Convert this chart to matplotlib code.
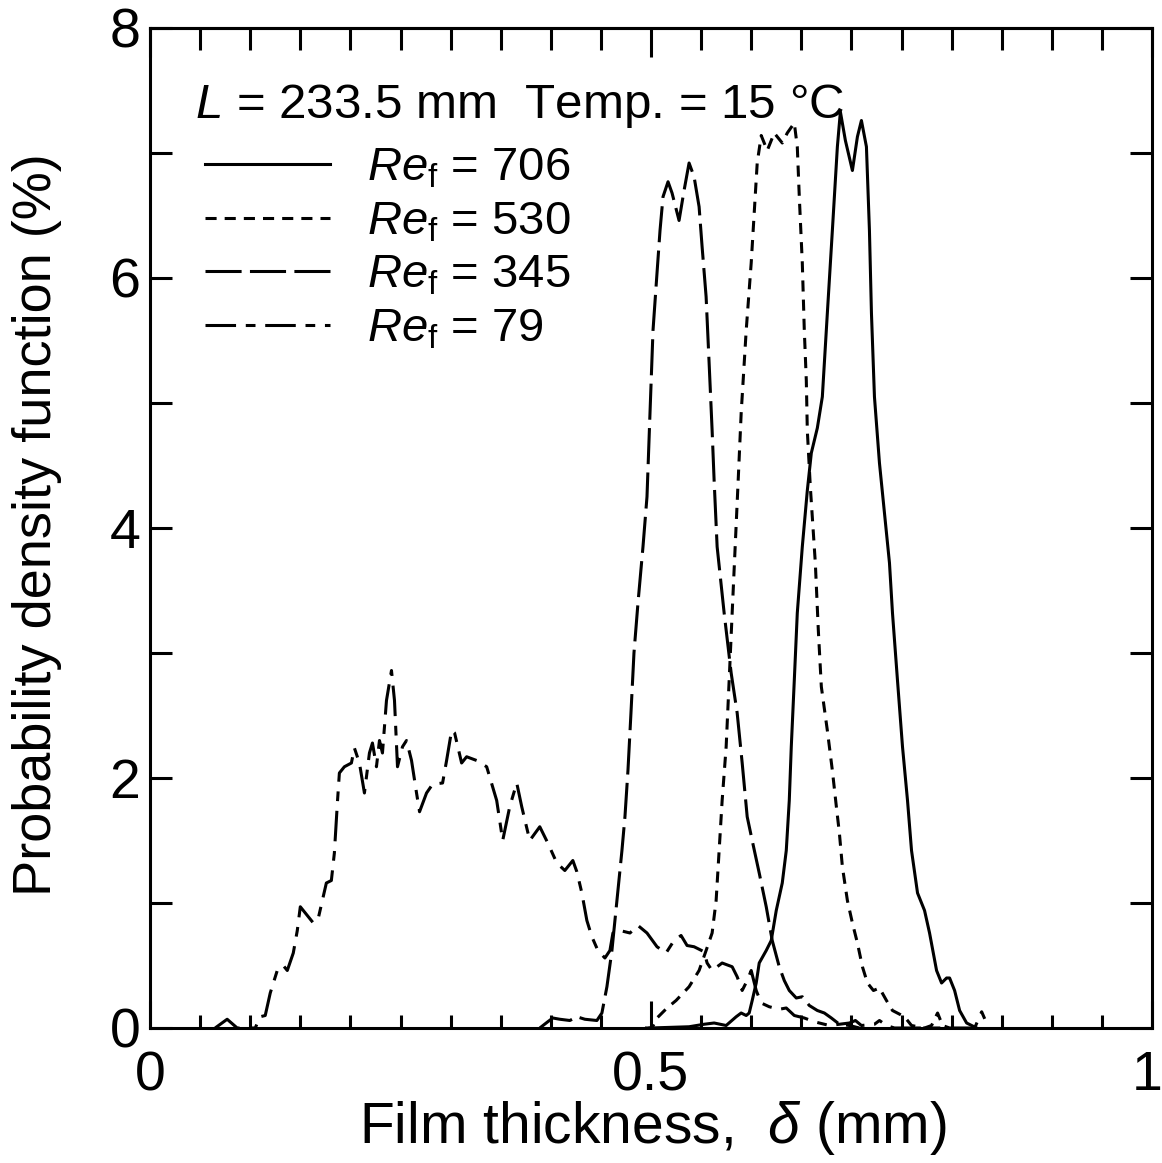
import matplotlib
matplotlib.use('Agg')
import matplotlib.pyplot as plt
from matplotlib.ticker import MultipleLocator, NullFormatter
from matplotlib.transforms import ScaledTranslation

# film thickness (mm) and PDF (%)
x_706 = [0.499, 0.538, 0.553, 0.563, 0.575, 0.585, 0.590, 0.595, 0.598, 0.601, 0.605, 0.608, 0.615, 0.620,
         0.625, 0.631, 0.635, 0.638, 0.640, 0.643, 0.646, 0.651, 0.656, 0.660, 0.666, 0.671, 0.676, 0.681,
         0.686, 0.689, 0.694, 0.701, 0.706, 0.710, 0.715, 0.718, 0.720, 0.723, 0.728, 0.738, 0.741, 0.746,
         0.751, 0.756, 0.760, 0.766, 0.773, 0.778, 0.785, 0.790, 0.795, 0.798, 0.803, 0.808, 0.815, 0.825]
pdf_706 = [0.00, 0.01, 0.03, 0.04, 0.02, 0.09, 0.12, 0.10, 0.12, 0.22, 0.36, 0.52, 0.62, 0.70,
           0.94, 1.16, 1.42, 1.82, 2.25, 2.78, 3.32, 3.85, 4.30, 4.60, 4.80, 5.05, 5.72, 6.38,
           7.05, 7.33, 7.10, 6.86, 7.13, 7.26, 7.05, 6.38, 5.72, 5.05, 4.52, 3.72, 3.32, 2.78,
           2.25, 1.82, 1.42, 1.08, 0.94, 0.76, 0.46, 0.36, 0.40, 0.40, 0.30, 0.14, 0.04, 0.00]

x_530 = [0.494, 0.501, 0.506, 0.516, 0.525, 0.538, 0.548, 0.555, 0.561, 0.565, 0.568, 0.571, 0.575, 0.578,
         0.581, 0.584, 0.587, 0.590, 0.595, 0.600, 0.603, 0.606, 0.610, 0.616, 0.623, 0.631, 0.636, 0.643,
         0.646, 0.648, 0.651, 0.653, 0.655, 0.656, 0.659, 0.664, 0.667, 0.670, 0.676, 0.681, 0.685, 0.688,
         0.691, 0.696, 0.701, 0.706, 0.711, 0.716, 0.722, 0.728, 0.735, 0.741, 0.753, 0.760, 0.773, 0.780,
         0.786, 0.791, 0.798]
pdf_530 = [0.00, 0.00, 0.08, 0.16, 0.22, 0.33, 0.46, 0.62, 0.76, 1.02, 1.42, 1.82, 2.25, 2.78,
           3.32, 3.85, 4.38, 4.92, 5.58, 6.12, 6.52, 6.92, 7.14, 7.02, 7.16, 7.08, 7.16, 7.24,
           7.05, 6.65, 6.12, 5.58, 5.18, 4.78, 4.33, 3.72, 3.18, 2.73, 2.38, 2.06, 1.77, 1.56,
           1.29, 1.02, 0.84, 0.68, 0.49, 0.36, 0.30, 0.32, 0.22, 0.14, 0.09, 0.02, 0.00, 0.02,
           0.12, 0.02, 0.00]

x_345 = [0.389, 0.397, 0.402, 0.409, 0.419, 0.426, 0.434, 0.446, 0.451, 0.456, 0.461, 0.466, 0.471, 0.474,
         0.477, 0.480, 0.483, 0.487, 0.492, 0.496, 0.499, 0.502, 0.506, 0.509, 0.512, 0.517, 0.521, 0.528,
         0.533, 0.538, 0.543, 0.548, 0.551, 0.555, 0.558, 0.561, 0.563, 0.566, 0.573, 0.580, 0.586, 0.591,
         0.596, 0.601, 0.608, 0.615, 0.621, 0.628, 0.633, 0.638, 0.645, 0.651, 0.658, 0.666, 0.673, 0.680,
         0.688, 0.698, 0.708]
pdf_345 = [0.00, 0.05, 0.08, 0.07, 0.06, 0.09, 0.07, 0.06, 0.12, 0.33, 0.62, 1.02, 1.42, 1.69,
           2.06, 2.52, 3.00, 3.40, 3.85, 4.25, 4.92, 5.58, 6.04, 6.38, 6.65, 6.77, 6.68, 6.46,
           6.70, 6.92, 6.81, 6.57, 6.25, 5.85, 5.32, 4.78, 4.38, 3.85, 3.32, 2.84, 2.52, 2.12,
           1.69, 1.50, 1.24, 0.97, 0.70, 0.49, 0.38, 0.30, 0.24, 0.25, 0.18, 0.14, 0.12, 0.08,
           0.03, 0.02, 0.00]

x_79 = [0.065, 0.077, 0.087, 0.105, 0.110, 0.115, 0.120, 0.127, 0.133, 0.137, 0.143, 0.147, 0.150, 0.155,
        0.163, 0.168, 0.176, 0.181, 0.184, 0.187, 0.189, 0.194, 0.201, 0.204, 0.209, 0.214, 0.219, 0.222,
        0.226, 0.229, 0.232, 0.236, 0.241, 0.244, 0.247, 0.252, 0.256, 0.261, 0.266, 0.269, 0.276, 0.282,
        0.292, 0.296, 0.301, 0.304, 0.311, 0.316, 0.326, 0.336, 0.346, 0.352, 0.359, 0.366, 0.371, 0.379,
        0.389, 0.397, 0.406, 0.414, 0.422, 0.426, 0.431, 0.436, 0.441, 0.447, 0.454, 0.459, 0.462, 0.469,
        0.479, 0.487, 0.496, 0.506, 0.515, 0.523, 0.530, 0.536, 0.543, 0.553, 0.556, 0.561, 0.571, 0.581,
        0.586, 0.591, 0.596, 0.600, 0.605, 0.610, 0.618, 0.628, 0.635, 0.643, 0.653, 0.663, 0.678, 0.698,
        0.704, 0.710, 0.723, 0.728, 0.735, 0.743, 0.823, 0.830, 0.837]
pdf_79 = [0.00, 0.07, 0.00, 0.00, 0.09, 0.10, 0.28, 0.46, 0.50, 0.46, 0.60, 0.78, 0.97, 0.92,
          0.84, 0.88, 1.16, 1.18, 1.40, 1.80, 2.04, 2.09, 2.12, 2.24, 2.12, 1.88, 2.20, 2.28,
          2.09, 2.30, 2.20, 2.62, 2.86, 2.62, 2.09, 2.25, 2.30, 2.14, 1.88, 1.73, 1.88, 1.95,
          1.96, 2.14, 2.38, 2.36, 2.12, 2.17, 2.14, 2.09, 1.82, 1.50, 1.77, 1.96, 1.77, 1.50,
          1.61, 1.48, 1.32, 1.26, 1.34, 1.25, 1.08, 0.86, 0.73, 0.62, 0.56, 0.62, 0.76, 0.78,
          0.76, 0.82, 0.76, 0.65, 0.60, 0.70, 0.74, 0.66, 0.65, 0.61, 0.52, 0.46, 0.52, 0.49,
          0.41, 0.30, 0.38, 0.46, 0.30, 0.20, 0.17, 0.15, 0.16, 0.10, 0.08, 0.05, 0.02, 0.04,
          0.06, 0.02, 0.03, 0.06, 0.02, 0.00, 0.00, 0.13, 0.00]

re_values = ['706', '530', '345', '79']
x_ticks = [0, 0.5, 1]
x_tick_labels = ['0', '0.5', '1']
y_ticks = [0, 2, 4, 6, 8]


def main():
    plt.rcParams['font.family'] = ['Liberation Sans', 'DejaVu Sans']
    plt.rcParams['mathtext.fontset'] = 'custom'
    plt.rcParams['mathtext.rm'] = 'Liberation Sans'
    plt.rcParams['mathtext.it'] = 'Liberation Sans:italic'
    plt.rcParams['lines.scale_dashes'] = False

    W, H = 1162, 1163
    fig = plt.figure(figsize=(W / 100, H / 100), dpi=100)
    ax = fig.add_axes([150 / W, 1 - 1028 / H, 1002 / W, 1000 / H])

    lw = 2.2
    l1, = ax.plot(x_706, pdf_706, color='black', lw=lw, linestyle='-')
    l2, = ax.plot(x_530, pdf_530, color='black', lw=lw, linestyle=(0, (8, 5.8)))
    l3, = ax.plot(x_345, pdf_345, color='black', lw=lw, linestyle=(0, (26, 6)))
    l4, = ax.plot(x_79, pdf_79, color='black', lw=lw, linestyle=(0, (22, 7, 7, 7)))

    ax.set_xlim(0, 1)
    ax.set_ylim(0, 8)
    ax.set_xticks(x_ticks)
    ax.set_xticklabels(x_tick_labels)
    ax.xaxis.set_minor_locator(MultipleLocator(0.05))
    ax.set_yticks(y_ticks)
    ax.yaxis.set_minor_locator(MultipleLocator(1))

    for s in ax.spines.values():
        s.set_linewidth(2.2)

    ax.tick_params(axis='x', which='major', direction='in', length=19.5, width=2.2,
                   labelsize=40, pad=16, top=False)
    ax.tick_params(axis='x', which='minor', direction='in', length=9.5, width=2.2, top=False)
    ax.tick_params(axis='y', which='both', direction='in', length=16, width=2.2,
                   labelsize=40, pad=7, left=True, right=True)

    # top ticks are longer than the bottom ones
    sec = ax.secondary_xaxis('top')
    sec.set_xticks(x_ticks)
    sec.xaxis.set_minor_locator(MultipleLocator(0.05))
    sec.xaxis.set_major_formatter(NullFormatter())
    sec.tick_params(which='major', direction='in', length=21, width=2.2)
    sec.tick_params(which='minor', direction='in', length=16, width=2.2)
    sec.spines['top'].set_linewidth(2.2)

    # the "1" sits a little left of its tick so it stays inside the figure
    last = ax.get_xticklabels()[-1]
    last.set_transform(last.get_transform() + ScaledTranslation(-0.05, 0, fig.dpi_scale_trans))

    ax.set_xlabel('Film thickness,  $\\mathit{\\delta}$ (mm)', fontsize=41)
    ax.xaxis.set_label_coords(0.502, -0.071)
    ax.set_ylabel('Probability density function (%)', fontsize=39)
    ax.yaxis.set_label_coords(-0.088, 0.503)

    ax.text(0.045, 0.910, '$\\mathit{L}$ = 233.5 mm  Temp. = 15 °C', transform=ax.transAxes,
            fontsize=35.5, ha='left', va='baseline')

    labels = ['$\\mathit{Re}_\\mathrm{f}$ = ' + r for r in re_values]
    ax.legend([l1, l2, l3, l4], labels, loc='upper left', bbox_to_anchor=(0.055, 0.881),
              frameon=False, fontsize=34, handlelength=2.65, handletextpad=0.78,
              labelspacing=0.2, borderpad=0, borderaxespad=0)

    fig.savefig('out.png', dpi=100)


if __name__ == "__main__":
    main()
